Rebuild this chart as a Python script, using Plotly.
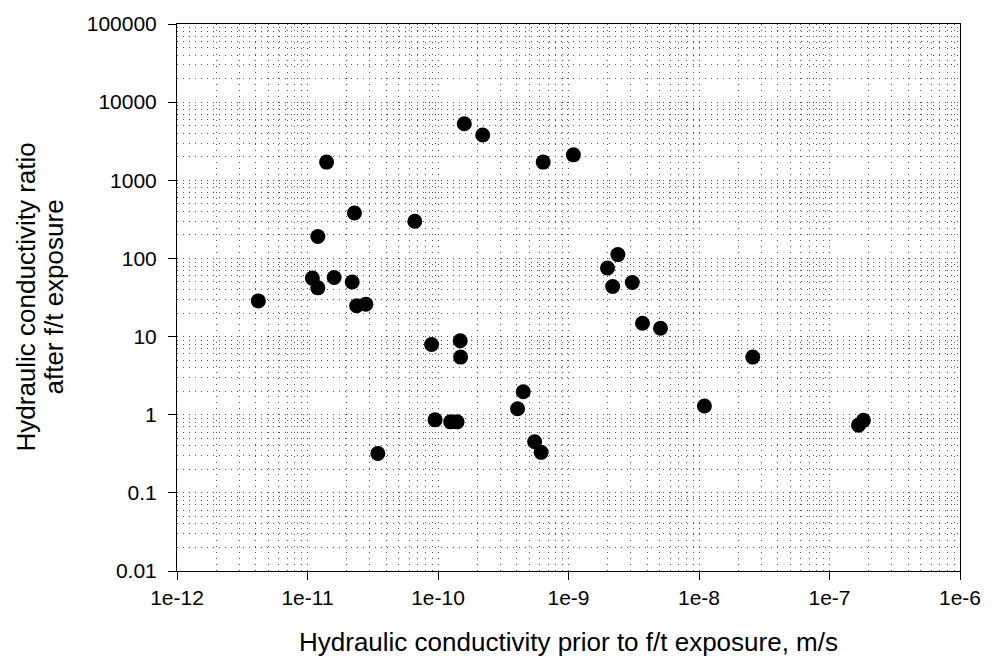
import plotly.graph_objects as go

# Hydraulic conductivity before freeze/thaw (m/s) and ratio after exposure
k_prior = [4.2e-12, 1.09e-11, 1.2e-11, 1.2e-11, 1.4e-11, 1.6e-11, 2.2e-11, 2.29e-11,
           2.38e-11, 2.8e-11, 3.46e-11, 6.64e-11, 8.93e-11, 9.5e-11, 1.25e-10, 1.40e-10,
           1.48e-10, 1.49e-10, 1.59e-10, 2.2e-10, 4.07e-10, 4.5e-10, 5.5e-10, 6.17e-10,
           6.4e-10, 1.09e-9, 1.99e-9, 2.18e-9, 2.39e-9, 3.08e-9, 3.69e-9, 5.07e-9,
           1.1e-8, 2.58e-8, 1.67e-7, 1.82e-7]
k_ratio = [28.6, 56, 42, 191, 1710, 57, 50, 381,
           24.8, 26, 0.32, 299, 7.9, 0.86, 0.81, 0.81,
           8.85, 5.46, 5300, 3790, 1.19, 1.97, 0.45, 0.33,
           1710, 2117, 75.5, 43.8, 112, 49.2, 14.8, 12.8,
           1.29, 5.46, 0.735, 0.85]

x_tickvals = [1e-12, 1e-11, 1e-10, 1e-9, 1e-8, 1e-7, 1e-6]
x_ticktext = ["1e-12", "1e-11", "1e-10", "1e-9", "1e-8", "1e-7", "1e-6"]
y_tickvals = [0.01, 0.1, 1, 10, 100, 1000, 10000, 100000]
y_ticktext = ["0.01", "0.1", "1", "10", "100", "1000", "10000", "100000"]

x_title = "Hydraulic conductivity prior to f/t exposure, m/s"
y_title_lines = ["Hydraulic conductivity ratio", "after f/t exposure"]

FONT = "Liberation Sans, Arial, sans-serif"
GRID = "#555555"
DASH = "1px,5px"

fig = go.Figure(
    go.Scatter(
        x=k_prior, y=k_ratio, mode="markers",
        marker=dict(size=15, color="black", line=dict(width=0)),
        showlegend=False,
    )
)

axis_common = dict(
    type="log",
    showline=True, linecolor="black", linewidth=1, mirror=True,
    ticks="outside", ticklen=8, tickcolor="black", tickwidth=1,
    showgrid=True, gridcolor=GRID, gridwidth=1, griddash=DASH,
    zeroline=False,
    tickfont=dict(family=FONT, size=21, color="black"),
    minor=dict(dtick="D1", showgrid=True, gridcolor=GRID, gridwidth=1,
               griddash=DASH, ticks=""),
)

fig.update_xaxes(
    **axis_common,
    range=[-12, -6],
    tickvals=x_tickvals, ticktext=x_ticktext,
    title=dict(text=x_title,
               font=dict(family=FONT, size=26, color="black"), standoff=24),
)
fig.update_yaxes(
    **axis_common,
    range=[-2, 5],
    tickvals=y_tickvals, ticktext=y_ticktext,
    ticklabelstandoff=7,
)

# vertical axis title, one annotation per line, left of the tick labels
for line_text, shift in zip(y_title_lines, [-152, -124]):
    fig.add_annotation(
        text=line_text,
        xref="paper", yref="paper", x=0, y=0.5,
        xshift=shift, xanchor="center", yanchor="middle",
        textangle=-90, showarrow=False,
        font=dict(family=FONT, size=26, color="black"),
    )

fig.update_layout(
    width=993, height=666,
    margin=dict(l=177, r=25, t=17, b=95),
    paper_bgcolor="white", plot_bgcolor="white",
    font=dict(family=FONT, color="black"),
)

fig.write_html("out.html")
